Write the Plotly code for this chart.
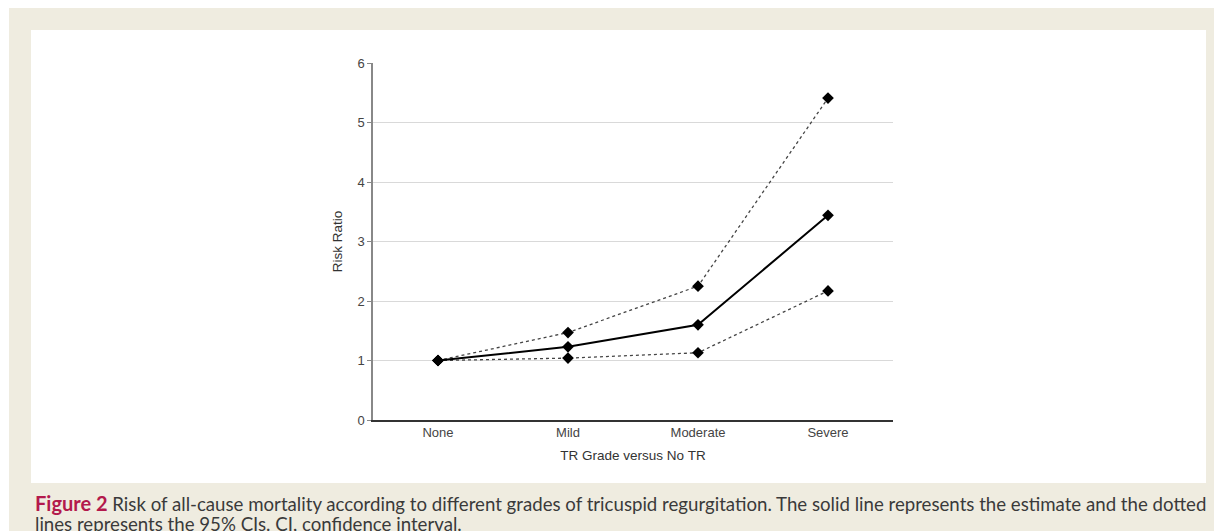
import plotly.graph_objects as go

categories = ["None", "Mild", "Moderate", "Severe"]
estimate = [1.0, 1.23, 1.60, 3.44]
upper_ci = [1.0, 1.47, 2.25, 5.41]
lower_ci = [1.0, 1.04, 1.13, 2.17]
y_ticks = [0, 1, 2, 3, 4, 5, 6]

OFF = 8  # page body margin
W, H = 1222 - OFF, 531 - OFF
L, R, T, B = 373 - OFF, 893 - OFF, 63 - OFF, 420 - OFF  # plot area in figure pixels


def px_x(p):
    return (p - OFF - L) / (R - L)


def px_y(p):
    return (B - (p - OFF)) / (B - T)


fig = go.Figure()

for vals in (upper_ci, lower_ci):
    fig.add_trace(go.Scatter(
        x=categories, y=vals, mode="lines+markers",
        line=dict(color="#444444", width=1.3, dash="dot"),
        marker=dict(symbol="diamond", size=9, color="black"),
        showlegend=False, hoverinfo="x+y"))

fig.add_trace(go.Scatter(
    x=categories, y=estimate, mode="lines+markers",
    line=dict(color="black", width=2),
    marker=dict(symbol="diamond", size=9, color="black"),
    showlegend=False, hoverinfo="x+y"))

shapes = [
    dict(type="rect", xref="paper", yref="paper", layer="below",
         x0=px_x(9), x1=px_x(1220), y0=px_y(535), y1=px_y(8),
         fillcolor="#efece0", line=dict(width=0)),
    dict(type="rect", xref="paper", yref="paper", layer="below",
         x0=px_x(31), x1=px_x(1206), y0=px_y(483), y1=px_y(30),
         fillcolor="white", line=dict(width=0)),
]

caption1 = ("<b><span style='color:#b3194c;font-size:20px'>Figure 2</span></b> Risk of all-cause mortality according to "
            "different grades of tricuspid regurgitation. The solid line represents the estimate and the dotted")
caption2 = "lines represents the 95% CIs. CI, confidence interval."

annotations = [
    dict(text=caption1, xref="paper", yref="paper", x=px_x(33), y=px_y(503),
         xanchor="left", yanchor="middle", showarrow=False,
         font=dict(family="Lato", size=18.65, color="#3a3a3a")),
    dict(text=caption2, xref="paper", yref="paper", x=px_x(33), y=px_y(524),
         xanchor="left", yanchor="middle", showarrow=False,
         font=dict(family="Lato", size=18.65, color="#3a3a3a")),
]

fig.update_layout(
    width=W, height=H,
    margin=dict(l=L, r=W - R, t=T, b=H - B, pad=0),
    paper_bgcolor="white", plot_bgcolor="rgba(0,0,0,0)",
    shapes=shapes, annotations=annotations,
    font=dict(family="Liberation Sans, Arial", color="#444444"),
    xaxis=dict(
        type="category", range=[-0.5, 3.5],
        showline=True, linecolor="#333333", linewidth=1.5,
        showgrid=False, ticks="", zeroline=False,
        tickfont=dict(size=13, color="#444444"),
        title=dict(text="TR Grade versus No TR", font=dict(size=13.5, color="#333333"), standoff=11),
    ),
    yaxis=dict(
        range=[0, 6], tickvals=y_ticks,
        showline=True, linecolor="#888888", linewidth=1.5,
        showgrid=True, gridcolor="#d9d9d9", gridwidth=1,
        ticks="outside", ticklen=4, tickcolor="#888888",
        zeroline=False,
        tickfont=dict(size=13, color="#444444"),
        title=dict(text="Risk Ratio", font=dict(size=13.5, color="#333333"), standoff=12),
    ),
)

fig.write_html("out.html")
